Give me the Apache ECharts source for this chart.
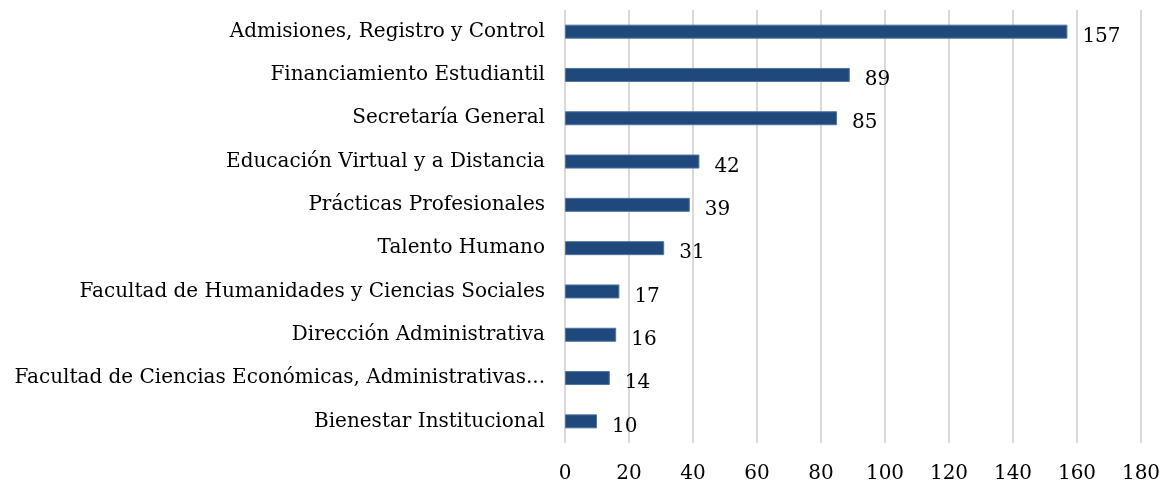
<!DOCTYPE html>
<html>
<head>
<meta charset="utf-8">
<script src="https://cdn.jsdelivr.net/npm/echarts@6/dist/echarts.min.js"></script>
<style>
  html, body { margin: 0; padding: 0; background: #fff; }
  #c1 { width: 1168px; height: 485px; }
</style>
</head>
<body>
<div id="c1"></div>
<script>
const categories = [
  'Admisiones, Registro y Control',
  'Financiamiento Estudiantil',
  'Secretaría General',
  'Educación Virtual y a Distancia',
  'Prácticas Profesionales',
  'Talento Humano',
  'Facultad de Humanidades y Ciencias Sociales',
  'Dirección Administrativa',
  'Facultad de Ciencias Económicas, Administrativas...',
  'Bienestar Institucional'
]
const values = [157, 89, 85, 42, 39, 31, 17, 16, 14, 10]
const xTicks = [0, 20, 40, 60, 80, 100, 120, 140, 160, 180]

const font = 'Georgia, "DejaVu Serif", serif'
const myChart = echarts.init(document.getElementById('c1'))
const option = {
  animation: false,
  textStyle: { fontFamily: font },
  grid: {
    left: 565,
    right: 27,
    top: 10,
    bottom: 42
  },
  xAxis: {
    type: 'value',
    min: xTicks[0],
    max: xTicks[xTicks.length - 1],
    interval: 20,
    axisLine: { show: false },
    axisTick: { show: false },
    splitLine: { lineStyle: { color: '#d9d9d9', width: 2 } },
    axisLabel: { color: '#000', fontSize: 20, fontFamily: font, margin: 21 }
  },
  yAxis: {
    type: 'category',
    inverse: true,
    data: categories,
    axisLine: { show: false },
    axisTick: { show: false },
    axisLabel: { color: '#000', fontSize: 20, fontFamily: font, margin: 20 }
  },
  series: [
    {
      type: 'bar',
      data: values,
      barWidth: 14,
      itemStyle: { color: '#1f497d', borderColor: '#4f74a4', borderWidth: 1 },
      label: {
        show: true,
        position: 'right',
        distance: 15,
        offset: [0, 5],
        color: '#000',
        fontSize: 20,
        fontFamily: font
      }
    }
  ]
}
myChart.setOption(option)
</script>
</body>
</html>
